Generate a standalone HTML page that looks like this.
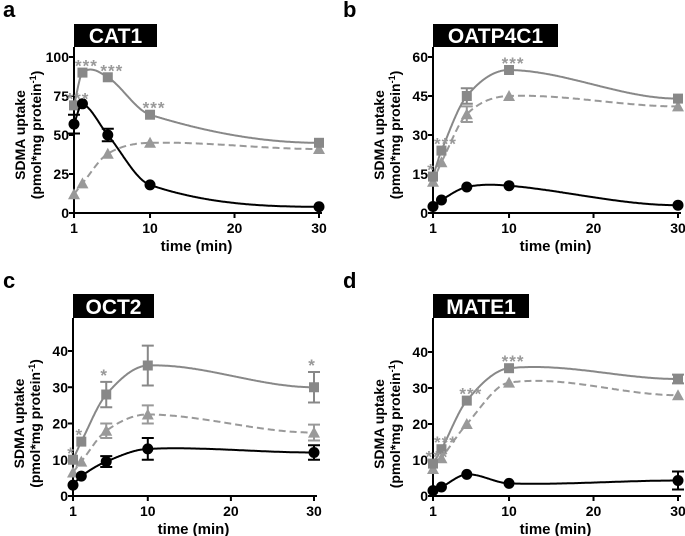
<!DOCTYPE html>
<html><head><meta charset="utf-8"><style>
body{margin:0;background:#fff;}
svg{display:block;font-family:"Liberation Sans",Arial,sans-serif;}
</style></head><body>
<svg id="fig" width="685" height="536" viewBox="0 0 685 536" xmlns="http://www.w3.org/2000/svg"></svg>
<script>
const times = [1, 2, 5, 10, 30];
const xTicks = [1, 10, 20, 30];
const titles = ["CAT1", "OATP4C1", "OCT2", "MATE1"];
const letters = ["a", "b", "c", "d"];
const yMaxs = [100, 60, 40, 40];
const yTickSets = [[0,25,50,75,100],[0,15,30,45,60],[0,10,20,30,40],[0,10,20,30,40]];
const circA = [57, 70, 50, 18, 4];
const sqA = [69, 90, 87, 63, 45];
const triA = [12, 19, 38, 45, 41];
const circB = [2.5, 5, 10, 10.5, 3];
const sqB = [14, 24, 45, 55, 44];
const triB = [12, 19.5, 38, 45, 41];
const circC = [3, 5.5, 9.5, 13, 12];
const sqC = [10, 15, 28, 36, 30];
const triC = [6.5, 9.5, 18, 22.5, 17.5];
const circD = [1.5, 2.5, 6, 3.5, 4.3];
const sqD = [9, 13, 26.5, 35.5, 32.5];
const triD = [7.5, 10.5, 20, 31.5, 28];
const starsA = ["***","***","***","***",""];
const starsB = ["*","***","","***",""];
const starsC = ["*","*","*","","*"];
const starsD = ["***","***","***","***",""];

const NS = "http://www.w3.org/2000/svg";
const svg = document.getElementById("fig");
function el(tag, attrs, parent){const e=document.createElementNS(NS,tag);for(const k in attrs)e.setAttribute(k,attrs[k]);(parent||svg).appendChild(e);return e;}

const panels = [
 {x0:74,x1:319,y0:213,yT:57,boxL:74,boxR:157,boxT:24,boxB:47,lx:3,ly:17,c:circA,s:sqA,t:triA,st:starsA,err:[[0,0,0,0,0],[0,0,0,0,0],[6,0,4,0,0]]},
 {x0:433,x1:678,y0:213,yT:57,boxL:433,boxR:558,boxT:24,boxB:47,lx:343,ly:17,c:circB,s:sqB,t:triB,st:starsB,err:[[0,0,3,0,0],[0,0,3,0,0],[0,0,0,0,0]]},
 {x0:73,x1:314,y0:496,yT:351,boxL:73,boxR:154,boxT:294,boxB:318,lx:3,ly:288,c:circC,s:sqC,t:triC,st:starsC,err:[[0,0,3.5,5.5,4.2],[0,0,2,2.5,2.2],[0,0,1.5,3,2]]},
 {x0:433,x1:678,y0:496,yT:352,boxL:433,boxR:529,boxT:294,boxB:318,lx:343,ly:288,c:circD,s:sqD,t:triD,st:starsD,err:[[0,0,0,0,1.2],[0,0,0,0,0],[0,0,0,0,2.5]]}
];

function hermite(xs, ys){
 const n=xs.length, m=[];
 m[0]=(ys[1]-ys[0])/(xs[1]-xs[0]);
 for(let i=1;i<n-1;i++)m[i]=(ys[i+1]-ys[i-1])/(xs[i+1]-xs[i-1]);
 m[n-1]=0;
 for(let i=0;i<n-1;i++){
  const dk=(ys[i+1]-ys[i])/(xs[i+1]-xs[i]);
  if(Math.abs(dk)<1e-9)continue;
  const a=m[i]/dk,b=m[i+1]/dk;
  if(a>=0&&b>=0&&a*a+b*b>9){const tau=3/Math.sqrt(a*a+b*b);m[i]=tau*a*dk;m[i+1]=tau*b*dk;}
 }
 return t=>{let j=0;while(j<n-2&&t>xs[j+1])j++;const h=xs[j+1]-xs[j],s=(t-xs[j])/h;
  const h00=2*s*s*s-3*s*s+1,h10=s*s*s-2*s*s+s,h01=-2*s*s*s+3*s*s,h11=s*s*s-s*s;
  return h00*ys[j]+h10*h*m[j]+h01*ys[j+1]+h11*h*m[j+1];};
}

panels.forEach((P,pi)=>{
 const g=el("g",{});
 
 
 const X=t=>P.x0+(t-1)*(P.x1-P.x0)/29;
 const Y=v=>P.y0-v*(P.y0-P.yT)/yMaxs[pi];
 const L=el("text",{x:P.lx,y:P.ly,"font-size":22,"font-weight":"bold"},g);L.textContent=letters[pi];
 
 const bx=el("rect",{x:P.boxL,y:P.boxT,width:P.boxR-P.boxL,height:P.boxB-P.boxT,fill:"#000"},g);
 
 const tt=el("text",{x:(P.boxL+P.boxR)/2,y:P.boxB-4,"font-size":21,"font-weight":"bold",fill:"#fff","text-anchor":"middle"},g);tt.textContent=titles[pi];
 
 const ax=el("path",{d:`M${P.x0},${P.boxB}V${P.y0}H${P.x1+3}`,stroke:"#000","stroke-width":2,fill:"none"},g);
 
 yTickSets[pi].forEach(v=>{
  el("line",{x1:P.x0-5,x2:P.x0,y1:Y(v),y2:Y(v),stroke:"#000","stroke-width":2},g);
  const t=el("text",{x:P.x0-5,y:Y(v)+5,"font-size":14,"font-weight":"bold","text-anchor":"end"},g);t.textContent=v;
  
 });
 xTicks.forEach(v=>{
  el("line",{x1:X(v),x2:X(v),y1:P.y0,y2:P.y0+5,stroke:"#000","stroke-width":2},g);
  const t=el("text",{x:X(v),y:P.y0+20,"font-size":14,"font-weight":"bold","text-anchor":"middle"},g);t.textContent=v;
  
 });
 const xt=el("text",{x:(P.x0+P.x1)/2,y:P.y0+38,"font-size":15,"font-weight":"bold","text-anchor":"middle"},g);xt.textContent="time (min)";
 
 const cy=(P.y0+P.yT)/2;
 const yt=el("text",{transform:`translate(${P.x0-49},${cy}) rotate(-90)`,"font-size":14,"font-weight":"bold","text-anchor":"middle"},g);
 
 const ts1=el("tspan",{x:0,y:0},yt);ts1.textContent="SDMA uptake";
 const ts2=el("tspan",{x:0,y:16},yt);ts2.textContent="(pmol*mg protein";
 const ts3=el("tspan",{dy:-5,"font-size":9},yt);ts3.textContent="-1";
 const ts4=el("tspan",{dy:5},yt);ts4.textContent=")";
 const series=[
  {v:P.t,col:"#999",dash:"7,4",m:"tri",name:"triangle",e:P.err[1]},
  {v:P.s,col:"#888",dash:"",m:"sq",name:"square",e:P.err[0]},
  {v:P.c,col:"#000",dash:"",m:"circ",name:"circle",e:P.err[2]}
 ];
 series.forEach(S=>{
  const f=hermite(times,S.v);
  let d="";
  for(let k=0;k<=290;k++){const t=1+k*0.1;d+=(k?"L":"M")+X(t).toFixed(1)+","+Y(f(t)).toFixed(1);}
  const ln=el("path",{d:d,stroke:S.col,"stroke-width":2,fill:"none","stroke-dasharray":S.dash},g);
  
  times.forEach((t,i)=>{
   const px=X(t),py=Y(S.v[i]);
   if(S.e[i]>0){
    const e1=Y(S.v[i]+S.e[i]),e2=Y(S.v[i]-S.e[i]);
    const eb=el("path",{d:`M${px},${e1}V${e2}M${px-6},${e1}H${px+6}M${px-6},${e2}H${px+6}`,stroke:S.col,"stroke-width":2,fill:"none"},g);
    
   }
   let m;
   if(S.m=="sq") m=el("rect",{x:px-5,y:py-5,width:10,height:10,fill:S.col},g);
   else if(S.m=="tri") m=el("path",{d:`M${px},${py-6}L${px+6},${py+5}L${px-6},${py+5}Z`,fill:S.col},g);
   else m=el("circle",{cx:px,cy:py,r:5.5,fill:S.col},g);
   
  });
 });
 P.st.forEach((s,i)=>{
  if(!s)return;
  const px=X(times[i])+(s.length>1?4:-2),py=Y(P.s[i]+P.err[0][i])-7;
  const st=el("text",{x:px,y:py+6,"font-size":17,"font-weight":"bold",fill:"#999","text-anchor":"middle","letter-spacing":"1"},g);st.textContent=s;
  
 });
});
</script>
</body></html>
